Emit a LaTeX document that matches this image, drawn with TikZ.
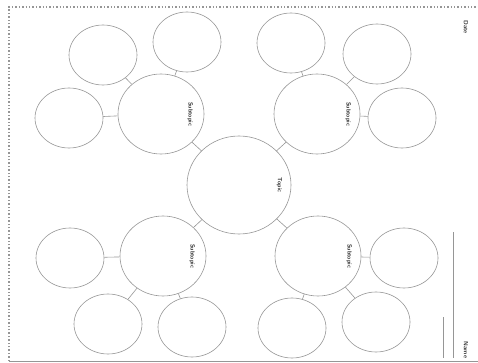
\documentclass[tikz,border=0pt]{standalone}
\usepackage{tikz}
\usetikzlibrary{shapes.geometric,positioning}
\definecolor{inkgray}{RGB}{150,150,150}
\tikzset{
  topicc/.style={draw=inkgray,ellipse,line width=0.6pt,minimum width=104pt,minimum height=98pt,inner sep=0pt},
  subc/.style={draw=inkgray,ellipse,line width=0.6pt,minimum width=86pt,minimum height=80pt,inner sep=0pt},
  leafc/.style={draw=inkgray,ellipse,line width=0.6pt,minimum width=68pt,minimum height=60pt,inner sep=0pt},
  link/.style={draw=inkgray,line width=0.6pt},
  lbl/.style={font=\sffamily\bfseries\fontsize{6}{7}\selectfont,text=black!80,rotate=-90,inner sep=0pt}
}
\begin{document}
\begin{tikzpicture}[x=1pt,y=-1pt]
\useasboundingbox (0,0) rectangle (478,363);
% page frame
\draw[inkgray,line width=1.4pt,dotted] (9,361) -- (9,7) -- (478,7);
\draw[inkgray,line width=0.6pt] (9,361) -- (478,361);
% topic in the middle
\node[topicc] (top) at (239,185) {};
\node[lbl] at ([xshift=-12pt]top.east) {Topic};
% four subtopics
\node[subc] (s1) at (161,114) {};
\node[subc] (s2) at (317,114) {};
\node[subc] (s3) at (163,256) {};
\node[subc] (s4) at (318,256) {};
\node[lbl] at ([xshift=-14pt]s1.east) {Subtopic};
\node[lbl] at ([xshift=-12pt]s2.east) {Subtopic};
\node[lbl] at ([xshift=-14pt]s3.east) {Subtopic};
\node[lbl] at ([xshift=-12pt]s4.east) {Subtopic};
% details
\node[leafc] (a1) at (69,118) {};
\node[leafc] (a2) at (103,55) {};
\node[leafc] (a3) at (187,42) {};
\node[leafc] (b1) at (291,43) {};
\node[leafc] (b2) at (377,54) {};
\node[leafc] (b3) at (402,118) {};
\node[leafc] (c1) at (70,258) {};
\node[leafc] (c2) at (108,324) {};
\node[leafc] (c3) at (192,327) {};
\node[leafc] (d1) at (292,328) {};
\node[leafc] (d2) at (376,322) {};
\node[leafc] (d3) at (404,258) {};
% connectors
\draw[link] (top) -- (s1);
\draw[link] (top) -- (s2);
\draw[link] (top) -- (s3);
\draw[link] (top) -- (s4);
\draw[link] (s1) -- (a1);
\draw[link] (s1) -- (a2);
\draw[link] (s1) -- (a3);
\draw[link] (s2) -- (b1);
\draw[link] (s2) -- (b2);
\draw[link] (s2) -- (b3);
\draw[link] (s3) -- (c1);
\draw[link] (s3) -- (c2);
\draw[link] (s3) -- (c3);
\draw[link] (s4) -- (d1);
\draw[link] (s4) -- (d2);
\draw[link] (s4) -- (d3);
% name and date
\node[lbl] (date) at (466,27) {Date};
\node[lbl] (name) at (466,350) {Name};
\coordinate (w1) at (453,232);
\coordinate (w2) at (443,317);
\draw[link] (w1) -- (w1 |- name.east);
\draw[link] (w2) -- (w2 |- name.east);
\end{tikzpicture}
\end{document}
